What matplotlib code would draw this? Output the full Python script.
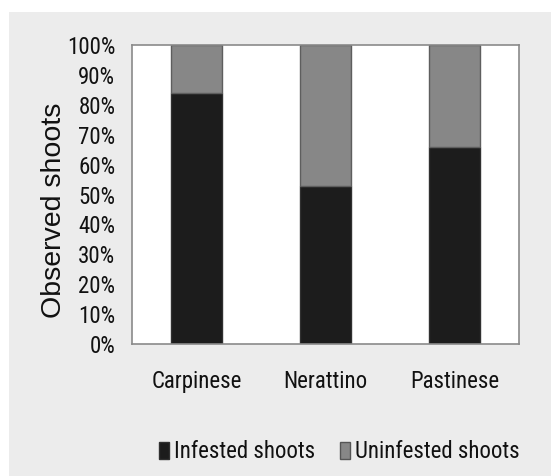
import matplotlib
matplotlib.use("Agg")
import matplotlib.pyplot as plt
from matplotlib.patches import Rectangle, Patch
from matplotlib import font_manager

categories = ["Carpinese", "Nerattino", "Pastinese"]
infested = [84, 53, 66]
uninfested = [16, 47, 34]
yticks = [0, 10, 20, 30, 40, 50, 60, 70, 80, 90, 100]
ytick_labels = [f"{v}%" for v in yticks]
series_names = ["Infested shoots", "Uninfested shoots"]

names = {f.name for f in font_manager.fontManager.ttflist}
narrow = next((c for c in ["Roboto Condensed", "PT Sans Narrow", "Liberation Sans"] if c in names), "DejaVu Sans")
regular = "Liberation Sans" if "Liberation Sans" in names else "DejaVu Sans"
plt.rcParams['font.family'] = [narrow, 'DejaVu Sans']

FS = 16.5
fig = plt.figure(figsize=(5.51, 4.76), dpi=100)
fig.patch.set_facecolor("white")
fig.patches.append(Rectangle((9/551, 0), 1 - 9/551, 1 - 12/476, transform=fig.transFigure,
                             facecolor="#ececec", edgecolor="none", zorder=-10))

ax = fig.add_axes([132/551, 132/476, 387/551, 299/476])
ax.set_facecolor("white")
x = list(range(len(categories)))
w = 0.40
ax.bar(x, infested, width=w, color="#1c1c1c", edgecolor="#303030", linewidth=1)
ax.bar(x, uninfested, width=w, bottom=infested, color="#878787", edgecolor="#5e5e5e", linewidth=1)
ax.set_xlim(-0.5, 2.5)
ax.set_ylim(0, 100)
ax.set_yticks(yticks)
ax.set_yticklabels(ytick_labels)
ax.set_xticks(x)
ax.set_xticklabels(categories)
ax.tick_params(axis="y", length=0, pad=12, labelsize=FS, labelcolor="#111111")
ax.tick_params(axis="x", length=0, pad=19, labelsize=FS, labelcolor="#111111")
for s in ax.spines.values():
    s.set_color("#8a8a8a")
    s.set_linewidth(1.2)

fig.text(54/551, 1 - 210/476, "Observed shoots", rotation=90, ha="center", va="center",
         fontsize=20.5, family=[regular, "DejaVu Sans"], color="#111111")

# legend layout
r = fig.canvas.get_renderer()
tmp = fig.text(0, 0, series_names[0], fontsize=FS)
tw = tmp.get_window_extent(r).width
tmp.remove()
fs_px = FS * 100 / 72
colspace = (340 - 174 - tw) / fs_px

handles = [Patch(facecolor="#1c1c1c", edgecolor="#303030"),
           Patch(facecolor="#878787", edgecolor="#555555")]
fig.legend(handles, series_names, loc="center left", bbox_to_anchor=(159/551, 1 - 452/476),
           ncol=2, frameon=False, fontsize=FS, handlelength=10/fs_px, handleheight=17/fs_px,
           handletextpad=5/fs_px, columnspacing=colspace, borderpad=0, borderaxespad=0,
           labelcolor="#111111")

fig.savefig("out.png", dpi=100, facecolor=fig.get_facecolor())
